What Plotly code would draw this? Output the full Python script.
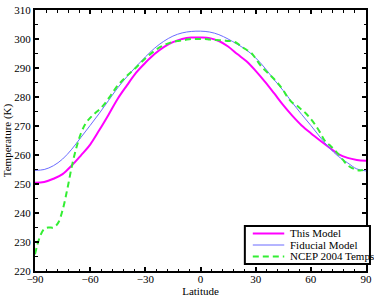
import plotly.graph_objects as go

lat_model = [-90, -85, -80, -75, -70, -65, -60, -55, -50, -45, -40, -35, -30, -25, -20, -15, -10, -5,
             0, 5, 10, 15, 20, 25, 30, 35, 40, 45, 50, 55, 60, 65, 70, 75, 80, 85, 90]

this_model = [250.4, 250.7, 251.8, 253.4, 256.4, 259.9, 263.6, 268.6, 273.9, 279.4, 284.0, 288.4,
              291.8, 294.8, 297.2, 298.9, 300.0, 300.5,
              300.5, 300.3, 299.3, 297.4, 294.8, 292.3, 289.0, 285.3, 281.3, 277.2, 273.5, 270.2,
              267.5, 265.0, 262.6, 260.3, 259.0, 258.3, 258.0]

fiducial = [254.7, 255.0, 256.3, 258.6, 262.0, 266.1, 270.2, 274.4, 278.8, 283.2, 287.0, 290.5,
            293.8, 296.8, 299.2, 301.0, 302.1, 302.6,
            302.7, 302.4, 301.5, 300.0, 298.2, 296.2, 293.5, 290.0, 286.0, 282.2, 278.0, 274.0,
            270.2, 266.2, 262.5, 259.5, 257.3, 255.2, 254.5]

lat_ncep = [-90, -87.5, -85, -82.5, -80, -77.5, -75, -72.5, -70, -67.5, -65, -62.5, -60, -57.5, -55,
            -52.5, -50, -47.5, -45, -42.5, -40, -37.5, -35, -32.5, -30, -27.5, -25, -22.5, -20,
            -17.5, -15, -12.5, -10, -7.5, -5, -2.5, 0, 2.5, 5, 7.5, 10, 12.5, 15, 17.5, 20, 22.5,
            25, 27.5, 30, 32.5, 35, 37.5, 40, 42.5, 45, 47.5, 50, 52.5, 55, 57.5, 60, 62.5, 65,
            67.5, 70, 72.5, 75, 77.5, 80, 82.5, 85, 87.5, 90]

ncep_2004 = [225.8, 231.5, 234.5, 235.0, 235.0, 236.5, 241.0, 248.0, 256.0, 262.5, 267.5, 270.8,
             272.8, 274.3, 275.7, 277.4, 279.5, 281.8, 284.0, 285.7, 287.3, 288.7, 290.2, 291.8,
             293.3, 294.7, 295.9, 297.0, 297.8, 298.5, 299.0, 299.3, 299.5, 299.8, 300.0, 300.0,
             300.0, 300.0, 299.8, 299.7, 299.6, 299.5, 299.3, 299.2, 298.5, 297.3, 296.3, 295.3,
             293.3, 291.0, 289.3, 287.8, 286.2, 284.4, 282.3, 279.8, 278.0, 277.0, 275.6, 274.2,
             272.4, 270.3, 267.8, 265.0, 263.5, 262.0, 260.3, 258.3, 256.5, 255.5, 254.8, 254.7,
             255.0]

series_names = ["This Model", "Fiducial Model", "NCEP 2004 Temps"]
x_ticks = [-90, -60, -30, 0, 30, 60, 90]
y_ticks = [220, 230, 240, 250, 260, 270, 280, 290, 300, 310]

FONT = "Liberation Serif, Times New Roman, serif"
styles = [
    dict(color="#FF00FF", width=2),
    dict(color="#6B6BFF", width=1),
    dict(color="#33EE33", width=2, dash="6px,4px"),
]

fig = go.Figure()
for name, xs, ys, st in zip(series_names, [lat_model, lat_model, lat_ncep],
                            [this_model, fiducial, ncep_2004], styles):
    fig.add_trace(go.Scatter(x=xs, y=ys, mode="lines", name=name, showlegend=False,
                             line=dict(shape="spline", **st)))

axis_common = dict(showgrid=False, zeroline=False, showline=True, linecolor="black", linewidth=2,
                   mirror="ticks", ticks="inside", ticklen=4, tickcolor="black", tickwidth=1.5,
                   automargin=False,
                   tickfont=dict(family=FONT, size=11, color="black"))

fig.update_xaxes(range=[-90, 90], tickvals=x_ticks,
                 ticktext=[str(v).replace("-", "\u2212") for v in x_ticks],
                 ticklabelstandoff=-3,
                 title=dict(text="Latitude", font=dict(family=FONT, size=11, color="black"), standoff=0),
                 minor=dict(ticks="inside", ticklen=2.5, dtick=6, tick0=-90, tickcolor="black", tickwidth=1),
                 **axis_common)
fig.update_yaxes(range=[220, 310], tickvals=y_ticks,
                 title=dict(text="Temperature (K)", font=dict(family=FONT, size=11, color="black"), standoff=0),
                 minor=dict(ticks="inside", ticklen=2.5, dtick=5, tick0=220, tickcolor="black", tickwidth=1),
                 **axis_common)

# legend box drawn in paper coordinates
shapes = [dict(type="rect", xref="paper", yref="paper", x0=0.634, x1=1.012, y0=0.027, y1=0.172,
               line=dict(color="black", width=2), fillcolor="white", layer="above")]
annotations = []
row_y = [0.1437, 0.0996, 0.0556]
for name, st, yy in zip(series_names, styles, row_y):
    ln = dict(color=st["color"], width=st["width"])
    if "dash" in st:
        ln["dash"] = st["dash"]
    shapes.append(dict(type="line", xref="paper", yref="paper", x0=0.658, x1=0.753, y0=yy, y1=yy,
                       line=ln, layer="above"))
    annotations.append(dict(xref="paper", yref="paper", x=0.765, y=yy, xanchor="left", yanchor="middle",
                            text=name, showarrow=False, font=dict(family=FONT, size=11, color="black")))

fig.update_layout(
    width=374, height=297,
    margin=dict(l=35, r=8, t=10, b=26),
    paper_bgcolor="white", plot_bgcolor="white",
    font=dict(family=FONT, size=11, color="black"),
    showlegend=False,
    shapes=shapes, annotations=annotations,
)

fig.write_html("out.html", config={"displayModeBar": False},
               post_script="document.body.style.margin='0';document.body.style.overflow='hidden';")
